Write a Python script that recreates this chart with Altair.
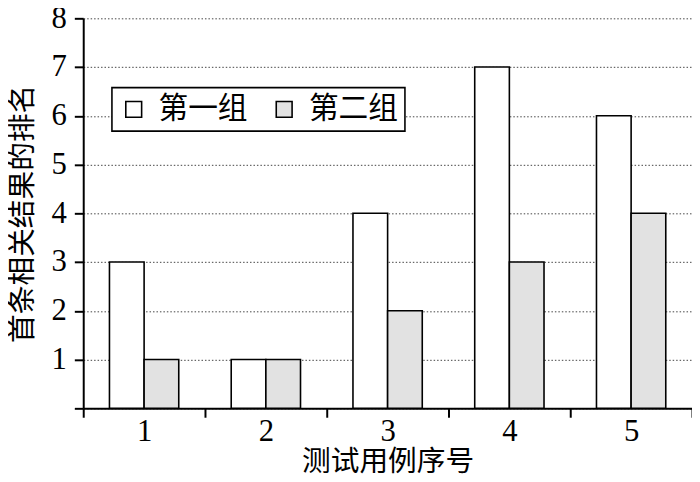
import altair as alt
import pandas as pd

cases = ["1", "2", "3", "4", "5"]
group_names = ["第一组", "第二组"]
group1 = [3, 1, 4, 7, 6]
group2 = [1, 1, 2, 3, 4]
y_ticks = [0, 1, 2, 3, 4, 5, 6, 7, 8]

rows = []
for c, a, b in zip(cases, group1, group2):
    rows.append({"case": c, "group": group_names[0], "rank": a})
    rows.append({"case": c, "group": group_names[1], "rank": b})
df = pd.DataFrame(rows)

LATIN = "'Liberation Serif', 'Times New Roman', serif"
CJK = "'Noto Sans CJK SC', sans-serif"

bars = alt.Chart(df).mark_bar(stroke="black", strokeWidth=1.6).encode(
    x=alt.X(
        "case:N",
        sort=cases,
        scale=alt.Scale(paddingInner=0, paddingOuter=0),
        axis=alt.Axis(
            title="测试用例序号",
            labelAngle=0,
            tickBand="extent",
            labelFont=LATIN,
            labelFontSize=31,
            labelPadding=0,
            titleFont=CJK,
            titleFontSize=29,
            titleFontWeight="normal",
            titlePadding=1,
            grid=False,
        ),
    ),
    xOffset=alt.XOffset(
        "group:N",
        sort=group_names,
        scale=alt.Scale(paddingInner=0, paddingOuter=0.757),
    ),
    y=alt.Y(
        "rank:Q",
        scale=alt.Scale(domain=[0, 8], nice=False),
        axis=alt.Axis(
            title="首条相关结果的排名",
            values=y_ticks,
            labelExpr="datum.value == 0 ? '' : datum.label",
            labelFont=LATIN,
            labelFontSize=31,
            labelPadding=8,
            titleFont=CJK,
            titleFontSize=29,
            titleFontWeight="normal",
            titlePadding=14,
            grid=True,
            gridColor="#444444",
            gridDash=[1.5, 2],
            gridWidth=1,
        ),
    ),
    fill=alt.Fill(
        "group:N",
        sort=group_names,
        scale=alt.Scale(domain=group_names, range=["#ffffff", "#e2e2e2"]),
        legend=alt.Legend(
            title=None,
            orient="none",
            legendX=29,
            legendY=70,
            direction="horizontal",
            symbolType="square",
            symbolSize=256,
            symbolStrokeColor="black",
            symbolStrokeWidth=1.6,
            labelFont=CJK,
            labelFontSize=30,
            labelOffset=10,
            columnPadding=22,
            padding=7,
            strokeColor="black",
            fillColor="white",
        ),
    ),
).properties(
    width=615,
    height=394,
    autosize=alt.AutoSizeParams(type="none"),
    padding={"left": 76, "top": 8, "right": 0, "bottom": 72},
)

chart = bars.configure_axis(
    domainColor="black",
    domainWidth=2,
    tickColor="black",
    tickWidth=2,
    tickSize=9,
    labelColor="black",
    titleColor="black",
).configure_view(stroke=None).configure_legend(
    labelColor="black",
    strokeWidth=1.6,
)

chart.save("out.html", embed_options={"renderer": "svg", "actions": False})
